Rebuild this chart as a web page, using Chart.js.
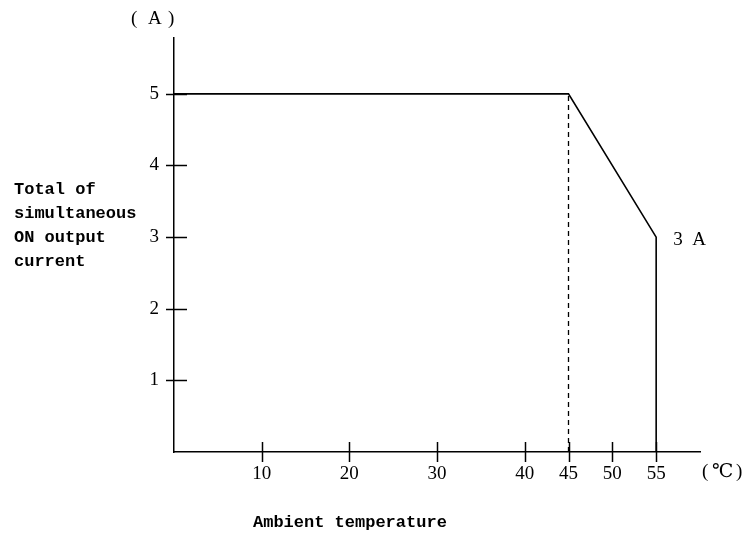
<!DOCTYPE html>
<html lang="en">
<head>
  <meta charset="UTF-8" />
  <title>Derating curve</title>
  <script src="https://cdn.jsdelivr.net/npm/chart.js"></script>
  <style>
    body {
      margin: 0;
      background-color: white;
    }
    #grafico-container {
      width: 754px;
      height: 538px;
    }
  </style>
</head>
<body>
  <div id="grafico-container">
    <canvas id="grafico" width="754" height="538"></canvas>
  </div>
  <script>
    // derating curve: temperature (°C) vs. total ON current (A)
    const temperaturas = [0, 45, 55, 55];
    const correntes = [5, 5, 3, 0];
    const linhaTracejadaX = [45, 45];
    const linhaTracejadaY = [0, 5];
    const ticksX = [10, 20, 30, 40, 45, 50, 55];
    const ticksY = [1, 2, 3, 4, 5];
    const tituloY = ['Total of', 'simultaneous', 'ON output', 'current'];
    const tituloX = 'Ambient temperature';

    const fonteMono = '"Liberation Mono", "DejaVu Sans Mono", monospace';
    const fonteSerif = '"Liberation Serif", "DejaVu Serif", serif';

    // tick marks that cross the axis line, plus the free text labels
    const extras = {
      id: 'extras',
      afterDraw(chart) {
        const ctx = chart.ctx;
        const { left, bottom } = chart.chartArea;
        const x = chart.scales.x;
        const y = chart.scales.y;
        ctx.save();
        ctx.strokeStyle = '#000';
        ctx.lineWidth = 1.5;
        ticksX.forEach(v => {
          const px = Math.round(x.getPixelForValue(v)) + 0.5;
          ctx.beginPath();
          ctx.moveTo(px, bottom - 10);
          ctx.lineTo(px, bottom + 10);
          ctx.stroke();
        });
        ticksY.forEach(v => {
          const py = Math.round(y.getPixelForValue(v)) + 0.5;
          ctx.beginPath();
          ctx.moveTo(left - 8, py);
          ctx.lineTo(left + 13, py);
          ctx.stroke();
        });

        ctx.fillStyle = '#000';
        ctx.textBaseline = 'middle';
        ctx.font = 'bold 17px ' + fonteMono;
        ctx.textAlign = 'left';
        tituloY.forEach((t, i) => {
          ctx.fillText(t, 14, 190 + i * 24);
        });
        ctx.fillText(tituloX, 253, 523);

        ctx.font = '19px ' + fonteSerif;
        ctx.fillText('3  A', x.getPixelForValue(55) + 17, y.getPixelForValue(3) + 3);
        ctx.fillText('(', 131, 19);
        ctx.fillText('A', 148, 19);
        ctx.fillText(')', 168, 19);
        ctx.fillText('(', 702, 472);
        ctx.fillText('℃', 712, 472);
        ctx.fillText(')', 736, 472);
        ctx.restore();
      }
    };

    new Chart(document.getElementById('grafico'), {
      type: 'scatter',
      data: {
        datasets: [
          {
            data: temperaturas.map((t, i) => ({ x: t, y: correntes[i] })),
            showLine: true,
            borderColor: '#000',
            borderWidth: 1.6,
            pointRadius: 0,
            tension: 0
          },
          {
            data: linhaTracejadaX.map((t, i) => ({ x: t, y: linhaTracejadaY[i] })),
            showLine: true,
            borderColor: '#000',
            borderWidth: 1.3,
            borderDash: [5, 4],
            pointRadius: 0
          }
        ]
      },
      options: {
        responsive: false,
        animation: false,
        layout: { padding: { left: 94, right: 54, top: 38, bottom: 0 } },
        plugins: {
          legend: { display: false },
          tooltip: { enabled: false }
        },
        scales: {
          x: {
            type: 'linear',
            min: 0,
            max: 60,
            afterBuildTicks: s => { s.ticks = ticksX.map(v => ({ value: v })); },
            afterFit: s => { s.height = 86; },
            grid: { display: false, drawTicks: false },
            border: { display: true, color: '#000', width: 1.5 },
            ticks: {
              color: '#000',
              padding: 11,
              maxRotation: 0,
              autoSkip: false,
              font: { family: fonteSerif, size: 19 }
            }
          },
          y: {
            min: 0,
            max: 5.78,
            afterBuildTicks: s => { s.ticks = ticksY.map(v => ({ value: v })); },
            afterFit: s => { s.width = 80; },
            grid: { display: false, drawTicks: false },
            border: { display: true, color: '#000', width: 1.5 },
            ticks: {
              color: '#000',
              padding: 15,
              font: { family: fonteSerif, size: 19 }
            }
          }
        }
      },
      plugins: [extras]
    });
  </script>
</body>
</html>
